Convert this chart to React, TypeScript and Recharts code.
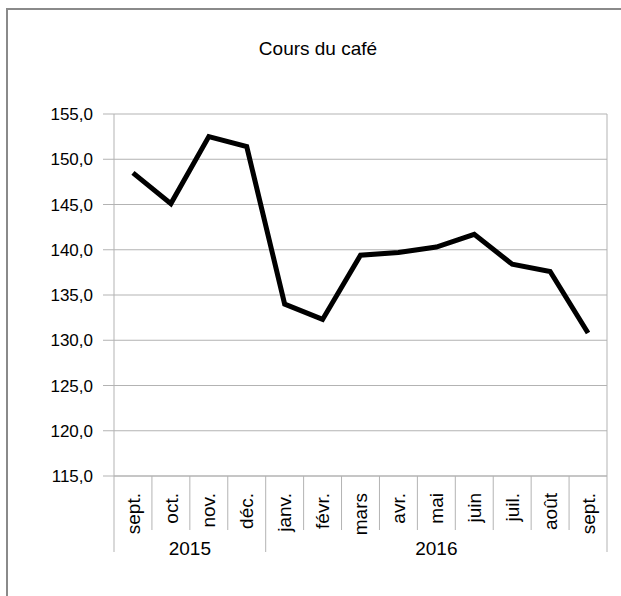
import React from "react"
import { LineChart, Line, XAxis, YAxis, CartesianGrid } from "recharts"

const months = ["sept.", "oct.", "nov.", "déc.", "janv.", "févr.", "mars", "avr.", "mai", "juin", "juil.", "août", "sept."]
const prices = [148.5, 145.1, 152.5, 151.4, 134.0, 132.3, 139.4, 139.7, 140.3, 141.7, 138.4, 137.6, 130.8]
const years = ["2015", "2016"]
const yearStart = [0, 4]
const yearCount = [4, 9]
const yTicks = [115, 120, 125, 130, 135, 140, 145, 150, 155]

const data = months.map((m, i) => ({ idx: i, month: m, price: prices[i] }))

const GRID = "#b3b3b3"
const FONT = "'Liberation Sans', Arial, sans-serif"

function MonthTick(props: any) {
  const { x, y, index, width } = props
  const band = width / months.length
  const left = x - band / 2
  const right = x + band / 2
  const g = yearStart.indexOf(index)
  const isLast = index === months.length - 1

  return (
    <g>
      <line x1={left} x2={left} y1={y} y2={y + (g >= 0 ? 76 : 54)} stroke={GRID} />
      {isLast && <line x1={right} x2={right} y1={y} y2={y + 76} stroke={GRID} />}
      <text
        x={x}
        y={y + 17}
        dy="0.35em"
        textAnchor="end"
        transform={`rotate(-90, ${x}, ${y + 17})`}
        fontSize={19}
        fill="#000"
      >
        {months[index]}
      </text>
      {g >= 0 && (
        <text x={left + (yearCount[g] * band) / 2} y={y + 79} textAnchor="middle" fontSize={19} fill="#000">
          {years[g]}
        </text>
      )}
    </g>
  )
}

export default function App() {
  return (
    <div style={{ position: "absolute", left: 0, top: 0, width: 621, height: 596, overflow: "hidden", background: "#fff", fontFamily: FONT }}>
      <div style={{ position: "absolute", left: 6, top: 8, width: 640, height: 620, border: "2px solid #8a8a8a" }} />
      <div style={{ position: "absolute", left: 18, top: 38, width: 600, lineHeight: "22px", textAlign: "center", fontSize: 19, color: "#000" }}>
        Cours du café
      </div>
      <div style={{ position: "absolute", left: 0, top: 0 }}>
        <LineChart width={621} height={596} data={data} margin={{ top: 114, right: 14, bottom: 0, left: 0 }}>
          <CartesianGrid
            stroke={GRID}
            verticalCoordinatesGenerator={({ offset }: any) => [offset.left + offset.width]}
          />
          <XAxis
            dataKey="idx"
            type="category"
            scale="band"
            interval={0}
            height={120}
            tickSize={0}
            tickMargin={0}
            tickLine={false}
            axisLine={{ stroke: GRID }}
            tick={<MonthTick />}
          />
          <YAxis
            domain={[115, 155]}
            ticks={yTicks}
            interval={0}
            allowDataOverflow
            width={114}
            tickSize={11}
            tickMargin={10}
            tickFormatter={(v: number) => v.toFixed(1).replace(".", ",")}
            axisLine={{ stroke: GRID }}
            tickLine={{ stroke: GRID }}
            tick={{ fill: "#000", fontSize: 17 }}
          />
          <Line
            type="linear"
            dataKey="price"
            stroke="#000"
            strokeWidth={5}
            strokeLinejoin="miter"
            dot={false}
            isAnimationActive={false}
          />
        </LineChart>
      </div>
    </div>
  )
}
